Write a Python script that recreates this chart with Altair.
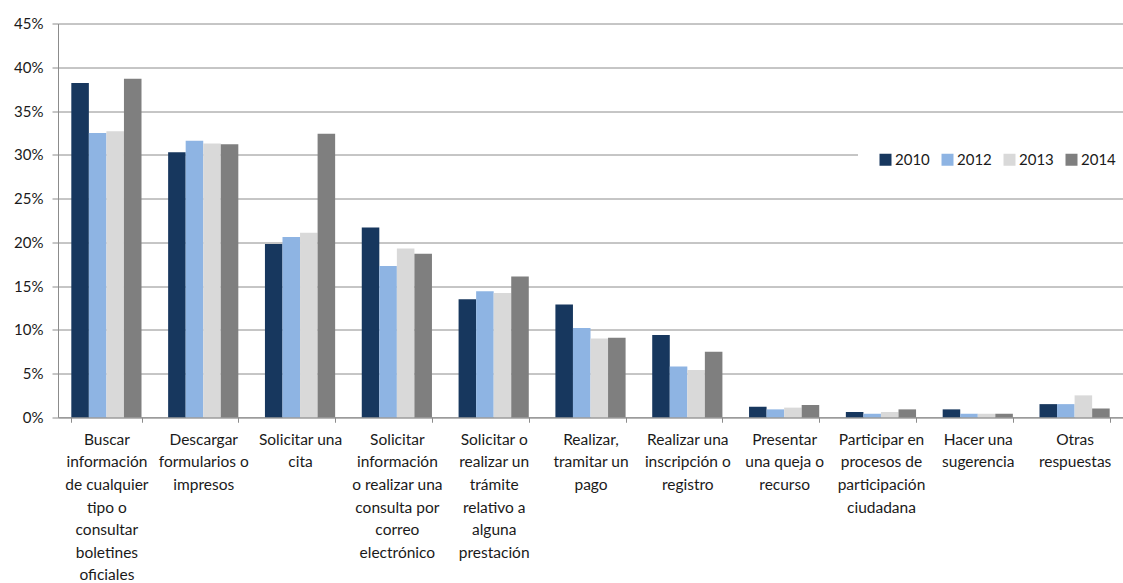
import altair as alt
import pandas as pd

categories = [
    "Buscar\ninformación\nde cualquier\ntipo o\nconsultar\nboletines\noficiales",
    "Descargar\nformularios o\nimpresos",
    "Solicitar una\ncita",
    "Solicitar\ninformación\no realizar una\nconsulta por\ncorreo\nelectrónico",
    "Solicitar o\nrealizar un\ntrámite\nrelativo a\nalguna\nprestación",
    "Realizar,\ntramitar un\npago",
    "Realizar una\ninscripción o\nregistro",
    "Presentar\nuna queja o\nrecurso",
    "Participar en\nprocesos de\nparticipación\nciudadana",
    "Hacer una\nsugerencia",
    "Otras\nrespuestas",
]
years = ["2010", "2012", "2013", "2014"]
colors = ["#17375E", "#8EB4E3", "#D9D9D9", "#7F7F7F"]

v2010 = [38.2, 30.3, 19.8, 21.7, 13.5, 12.9, 9.4, 1.2, 0.6, 0.9, 1.5]
v2012 = [32.5, 31.6, 20.6, 17.3, 14.4, 10.2, 5.8, 0.9, 0.4, 0.4, 1.5]
v2013 = [32.7, 31.3, 21.1, 19.3, 14.2, 9.0, 5.4, 1.1, 0.6, 0.4, 2.5]
v2014 = [38.7, 31.2, 32.4, 18.7, 16.1, 9.1, 7.5, 1.4, 0.9, 0.4, 1.0]
y_ticks = [0, 0.05, 0.10, 0.15, 0.20, 0.25, 0.30, 0.35, 0.40, 0.45]

rows = []
for yr, vals in zip(years, [v2010, v2012, v2013, v2014]):
    for c, v in zip(categories, vals):
        rows.append({"cat": c, "year": yr, "value": v / 100})
df = pd.DataFrame(rows)

FONT = "Lato"
TXT = "#1a1a1a"
GRID = "#8c8c8c"

chart = alt.Chart(df).mark_bar().encode(
    x=alt.X(
        "cat:N", sort=categories,
        scale=alt.Scale(paddingInner=0.275, paddingOuter=0.1375),
        axis=alt.Axis(
            title=None, labelAngle=0, labelExpr="split(datum.label, '\\n')",
            labelFontSize=15.5, labelFont=FONT, labelColor=TXT, labelLineHeight=22.6,
            labelBaseline="top", labelPadding=10, labelLimit=0, labelOverlap=False,
            tickBand="extent", tickSize=5, tickColor=GRID, domainColor=GRID,
            grid=False,
        ),
    ),
    xOffset=alt.XOffset("year:N", sort=years, scale=alt.Scale(paddingInner=0, paddingOuter=0)),
    y=alt.Y(
        "value:Q",
        scale=alt.Scale(domain=[0, 0.45], nice=False),
        axis=alt.Axis(
            title=None, format="%", values=y_ticks,
            labelFontSize=15, labelFont=FONT, labelColor=TXT, labelPadding=9,
            tickSize=6, tickColor=GRID, domainColor=GRID,
            grid=True, gridColor=GRID, gridWidth=1,
        ),
    ),
    color=alt.Color(
        "year:N",
        scale=alt.Scale(domain=years, range=colors),
        legend=alt.Legend(
            title=None, orient="none", direction="horizontal",
            legendX=800, legendY=108.5, padding=20, fillColor="white",
            symbolType="square", symbolSize=144, symbolStrokeWidth=0,
            labelFontSize=15, labelFont=FONT, labelColor=TXT, labelOffset=2,
            columnPadding=10,
        ),
    ),
).properties(
    width=1065, height=393.75,
    autosize=alt.AutoSizeParams(type="none"),
    padding={"left": 58, "top": 23.5, "right": 0, "bottom": 166},
).configure_view(stroke=None)

chart.save("out.html", embed_options={"renderer": "svg", "actions": False})
